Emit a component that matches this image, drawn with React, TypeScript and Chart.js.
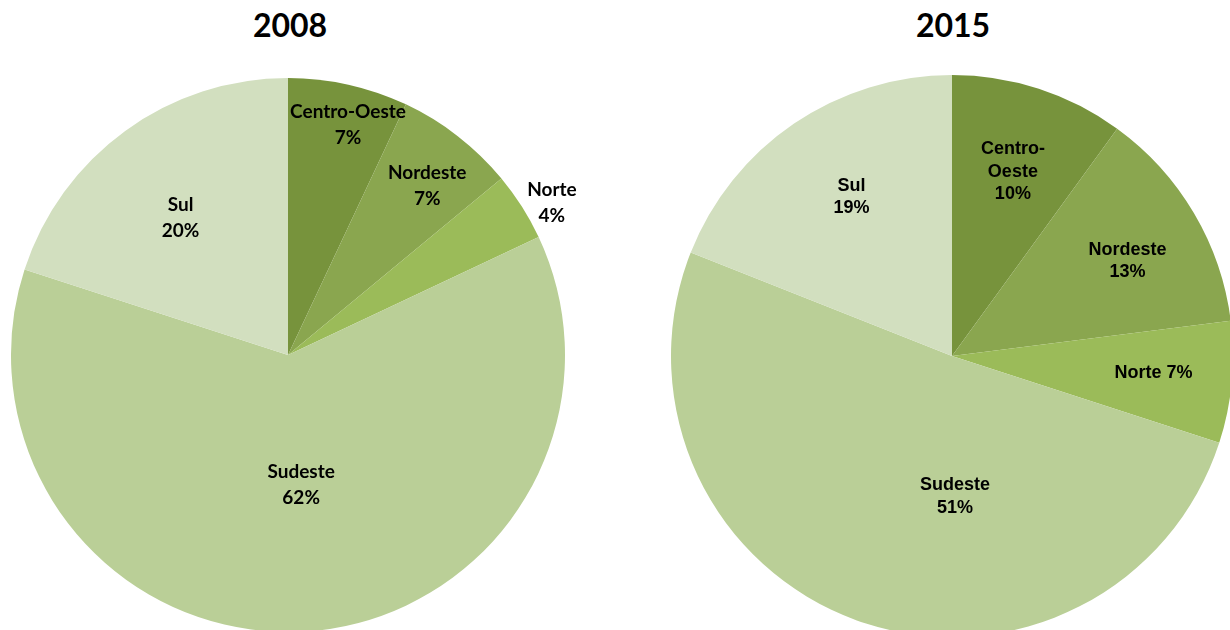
import React, { useEffect, useRef } from "react";
import { Chart, registerables } from "chart.js";

Chart.register(...registerables);

// ---- data ----
const CATEGORIES = ["Centro-Oeste", "Nordeste", "Norte", "Sudeste", "Sul"];
const VALUES_2008 = [7, 7, 4, 62, 20];
const VALUES_2015 = [10, 13, 7, 51, 19];
const TITLES = ["2008", "2015"];

// ---- styles ----
const COLORS = ["#77933C", "#8AA64F", "#9BBB59", "#BACF97", "#D2DFBF"];

// label placement: [angle in degrees clockwise from 12 o'clock, fraction of radius]
const LABEL_POS_2008: [number, number][] = [
  [14.6, 0.86],
  [39.5, 0.79],
  [60, 1.1],
  [174.2, 0.47],
  [322, 0.63],
];
const LABEL_POS_2015: [number, number][] = [
  [18.3, 0.69],
  [61.6, 0.71],
  [94.8, 0.72],
  [178.8, 0.5],
  [327.7, 0.67],
];
// how each label is broken into lines
const LABEL_MODE_2008 = ["stack", "stack", "stack", "stack", "stack"];
const LABEL_MODE_2015 = ["hyphen", "stack", "inline", "stack", "stack"];

function labelLines(name: string, value: number, mode: string): string[] {
  const pct = `${value}%`;
  if (mode === "inline") return [`${name} ${pct}`];
  if (mode === "hyphen") {
    const i = name.indexOf("-");
    return [name.slice(0, i + 1), name.slice(i + 1), pct];
  }
  return [name, pct];
}

type Pad = { left: number; top: number; right: number; bottom: number };

type PieProps = {
  values: number[];
  positions: [number, number][];
  modes: string[];
  font: string;
  lineHeight: number;
  left: number;
  top: number;
  width: number;
  height: number;
  padding: Pad;
};

function Pie({ values, positions, modes, font, lineHeight, left, top, width, height, padding }: PieProps) {
  const ref = useRef<HTMLCanvasElement | null>(null);
  useEffect(() => {
    if (!ref.current) return;
    const labelPlugin = {
      id: "sliceLabels",
      afterDatasetsDraw(chart: any) {
        const ctx = chart.ctx as CanvasRenderingContext2D;
        const meta = chart.getDatasetMeta(0);
        ctx.save();
        ctx.font = font;
        ctx.fillStyle = "#000000";
        ctx.textAlign = "center";
        ctx.textBaseline = "middle";
        meta.data.forEach((arc: any, i: number) => {
          const [deg, frac] = positions[i];
          const a = (deg * Math.PI) / 180;
          const r = arc.outerRadius * frac;
          const x = arc.x + Math.sin(a) * r;
          const y = arc.y - Math.cos(a) * r;
          const lines = labelLines(CATEGORIES[i], values[i], modes[i]);
          const y0 = y - ((lines.length - 1) * lineHeight) / 2;
          lines.forEach((ln, k) => ctx.fillText(ln, x, y0 + k * lineHeight));
        });
        ctx.restore();
      },
    };
    const chart = new Chart(ref.current, {
      type: "pie",
      data: {
        labels: CATEGORIES,
        datasets: [
          {
            data: values,
            backgroundColor: COLORS,
            borderWidth: 0,
            hoverOffset: 0,
          },
        ],
      },
      options: {
        responsive: false,
        animation: false,
        layout: { padding },
        plugins: {
          legend: { display: false },
          tooltip: { enabled: false },
        },
      },
      plugins: [labelPlugin],
    });
    return () => chart.destroy();
  }, []);
  return (
    <canvas
      ref={ref}
      width={width}
      height={height}
      style={{ position: "absolute", left, top, width, height }}
    />
  );
}

const titleStyle: React.CSSProperties = {
  position: "absolute",
  top: 9,
  width: 200,
  textAlign: "center",
  fontFamily: "Lato, 'Open Sans', sans-serif",
  fontWeight: 700,
  fontSize: 32,
  lineHeight: "32px",
  color: "#000",
};

export default function App() {
  return (
    <div
      style={{
        position: "fixed",
        left: 0,
        top: 0,
        width: 1230,
        height: 630,
        overflow: "hidden",
        background: "#ffffff",
      }}
    >
      <div style={{ ...titleStyle, left: 290 - 100 }}>{TITLES[0]}</div>
      <div style={{ ...titleStyle, left: 953 - 100 }}>{TITLES[1]}</div>
      <Pie
        values={VALUES_2008}
        positions={LABEL_POS_2008}
        modes={LABEL_MODE_2008}
        font="bold 19px Lato, 'Open Sans', sans-serif"
        lineHeight={26}
        left={0}
        top={0}
        width={615}
        height={640}
        padding={{ left: 11, top: 78, right: 50, bottom: 8 }}
      />
      <Pie
        values={VALUES_2015}
        positions={LABEL_POS_2015}
        modes={LABEL_MODE_2015}
        font="bold 18px 'Liberation Sans', Arial, sans-serif"
        lineHeight={22.5}
        left={615}
        top={0}
        width={625}
        height={640}
        padding={{ left: 56, top: 75, right: 7, bottom: 3 }}
      />
    </div>
  );
}
